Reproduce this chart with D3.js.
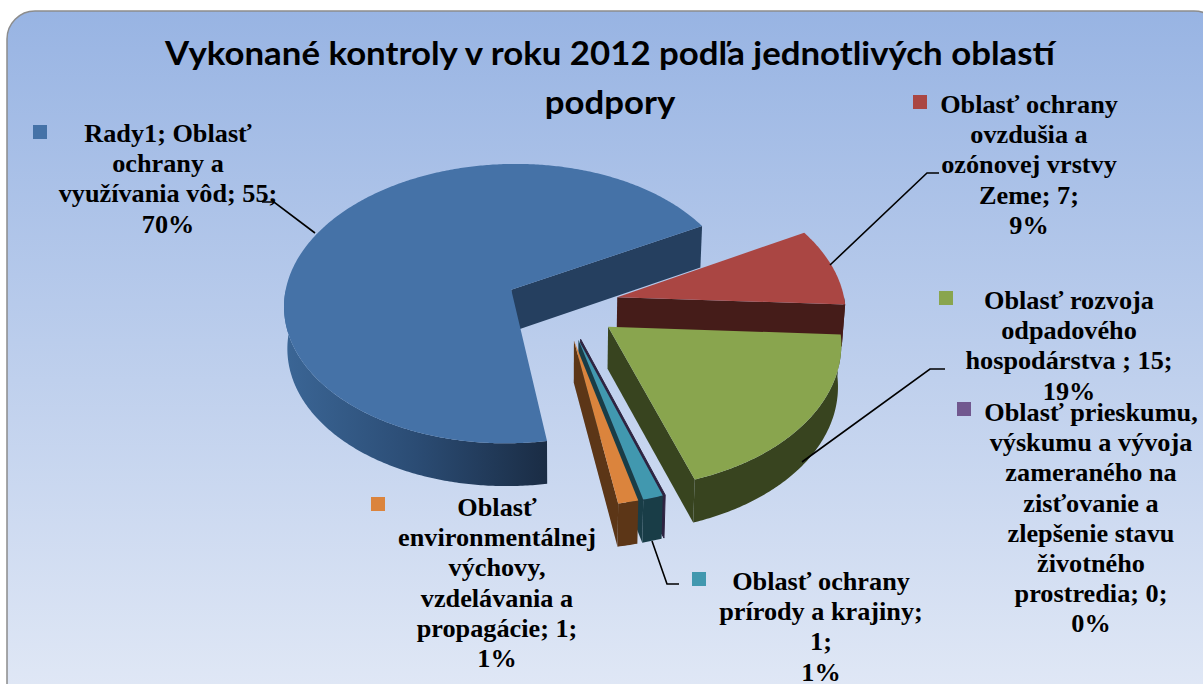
<!DOCTYPE html>
<html>
<head>
<meta charset="utf-8">
<title>Vykonané kontroly v roku 2012</title>
<script src="https://cdn.jsdelivr.net/npm/d3@7/dist/d3.min.js"></script>
<style>
html,body{margin:0;padding:0;background:#fff;overflow:hidden}
svg{display:block}
</style>
</head>
<body>
<script>
var titleLines = ["Vykonané kontroly v roku 2012 podľa jednotlivých oblastí", "podpory"];
var categories = [
	"Oblasť ochrany a využívania vôd",
	"Oblasť ochrany ovzdušia a ozónovej vrstvy Zeme",
	"Oblasť rozvoja odpadového hospodárstva",
	"Oblasť prieskumu, výskumu a vývoja zameraného na zisťovanie a zlepšenie stavu životného prostredia",
	"Oblasť ochrany prírody a krajiny",
	"Oblasť environmentálnej výchovy, vzdelávania a propagácie"
];
var values = [55, 7, 15, 0, 1, 1];
var topColors = ["#4572A7", "#AA4643", "#89A54E", "#71588F", "#4198AF", "#DB843D"];
var wallColors = ["#253F5F", "#451C19", "#38441F", "#2E2340", "#193D47", "#5C3617"];
var labelLines = [
	["Rady1; Oblasť", "ochrany a", "využívania vôd; 55;", "70%"],
	["Oblasť ochrany", "ovzdušia a", "ozónovej vrstvy", "Zeme; 7;", "9%"],
	["Oblasť rozvoja", "odpadového", "hospodárstva ; 15;", "19%"],
	["Oblasť prieskumu,", "výskumu a vývoja", "zameraného na", "zisťovanie a", "zlepšenie stavu", "životného", "prostredia; 0;", "0%"],
	["Oblasť ochrany", "prírody a krajiny;", "1;", "1%"],
	["Oblasť", "environmentálnej", "výchovy,", "vzdelávania a", "propagácie; 1;", "1%"]
];

var width = 1203, height = 684;
// layout of the labels: x centre, first baseline, legend key corner
var labelPos = [
	{x: 168, y: 142, kx: 33, ky: 125},
	{x: 1029, y: 113, kx: 913, ky: 95},
	{x: 1069, y: 309, kx: 939, ky: 291},
	{x: 1091, y: 421, kx: 957, ky: 402},
	{x: 821, y: 590, kx: 692, ky: 572},
	{x: 497, y: 516, kx: 371, ky: 497}
];
var leaders = [
	[[262, 202], [274, 202], [315, 233]],
	[[830, 265], [927, 173], [939, 173]],
	[[802, 462], [930, 369], [945, 369]],
	[[652, 541], [667, 584], [679, 584]]
];

var cx = 562, cy = 305, R = 228, tilt = 0.62, persp = 0.1, explode = 57, depth = 42;

var svg = d3.select("body").append("svg").attr("width", width).attr("height", height);
var defs = svg.append("defs");

var bg = defs.append("linearGradient").attr("id", "bg").attr("x1", 0).attr("y1", 0).attr("x2", 0).attr("y2", 1);
bg.append("stop").attr("offset", "0%").attr("stop-color", "#98B4E3");
bg.append("stop").attr("offset", "100%").attr("stop-color", "#E2E9F6");

var wall = defs.append("linearGradient").attr("id", "mainWall").attr("gradientUnits", "userSpaceOnUse")
	.attr("x1", 283).attr("y1", 0).attr("x2", 548).attr("y2", 0);
wall.append("stop").attr("offset", "0%").attr("stop-color", "#3B6696");
wall.append("stop").attr("offset", "50%").attr("stop-color", "#2B4C74");
wall.append("stop").attr("offset", "100%").attr("stop-color", "#1A2C44");

svg.append("rect").attr("x", 7).attr("y", 11).attr("width", 1215).attr("height", 700).attr("rx", 28)
	.attr("fill", "url(#bg)").attr("stroke", "#8C8C8C").attr("stroke-width", 1.5);

// pie angles, clockwise from the top
var pie = d3.pie().sort(null).value(function(d){return d})
	.startAngle(170.5 * Math.PI / 180).endAngle((170.5 + 360) * Math.PI / 180);
var slices = pie(values);

function project(d, a, r, low) {
	var mid = (d.startAngle + d.endAngle) / 2;
	var X = explode * Math.sin(mid) + r * Math.sin(a);
	var Y = -explode * Math.cos(mid) - r * Math.cos(a);
	var s = 1 / (1 - persp * Y / R);
	var px = cx + X * s, py = cy + tilt * Y * s;
	if (low) {
		px = cx + (px - cx) * 0.988;
		py = py + depth * (1 + (s - 1) * 0.2);
	}
	return [px, py];
}

function angles(a0, a1) {
	var n = Math.max(2, Math.ceil(Math.abs(a1 - a0) / 0.01));
	return d3.range(n + 1).map(function(i){return a0 + (a1 - a0) * i / n});
}

var line = d3.line();

function topFace(d) {
	var pts = [project(d, 0, 0)];
	angles(d.startAngle, d.endAngle).forEach(function(a){pts.push(project(d, a, R))});
	return line(pts) + "Z";
}
function endWall(d) {
	var a = d.endAngle;
	return line([project(d, a, 0), project(d, a, R), project(d, a, R, true), project(d, a, 0, true)]) + "Z";
}
function outerWall(d) {
	// only the part of the rim that faces the viewer, slices past the top have angles over 2pi
	var base = d.startAngle >= 2 * Math.PI ? 2 * Math.PI : 0;
	var a0 = Math.max(d.startAngle, base + Math.PI / 2), a1 = Math.min(d.endAngle, base + 1.5 * Math.PI);
	if (a1 <= a0) return null;
	var arc = angles(a0, a1);
	var pts = arc.map(function(a){return project(d, a, R)});
	var low = arc.slice().reverse().map(function(a){return project(d, a, R, true)});
	return line(pts.concat(low)) + "Z";
}

// painted in data order, each slice covers the wall of the one before it
var g = svg.selectAll("g.slice").data(slices).enter().append("g").attr("class", "slice");

g.append("path").attr("d", endWall)
	.attr("fill", function(d){return wallColors[d.index]})
	.attr("stroke", function(d){return d.value == 0 ? wallColors[d.index] : "none"})
	.attr("stroke-width", 1);
g.append("path").attr("d", outerWall)
	.attr("fill", function(d){return d.index == 0 ? "url(#mainWall)" : wallColors[d.index]});
g.filter(function(d){return d.value > 0}).append("path").attr("d", topFace)
	.attr("fill", function(d){return topColors[d.index]});

// leader lines
var leader = d3.line();
svg.selectAll("path.leader").data(leaders).enter().append("path").attr("class", "leader")
	.attr("d", function(d){return leader(d)})
	.attr("fill", "none").attr("stroke", "#000").attr("stroke-width", 1.6);

// title
svg.selectAll("text.title").data(titleLines).enter().append("text").attr("class", "title")
	.attr("transform", function(d, i){return "translate(610," + (65 + i * 49) + ") scale(1.055,1)"})
	.attr("text-anchor", "middle")
	.attr("font-family", "Lato, sans-serif").attr("font-weight", "bold").attr("font-size", 33)
	.attr("fill", "#000")
	.text(function(d){return d});

// data labels with their legend keys
var lab = svg.selectAll("g.label").data(labelLines).enter().append("g").attr("class", "label");
lab.append("rect")
	.attr("x", function(d, i){return labelPos[i].kx})
	.attr("y", function(d, i){return labelPos[i].ky})
	.attr("width", 14).attr("height", 14)
	.attr("fill", function(d, i){return topColors[i]});
lab.each(function(d, i) {
	d3.select(this).selectAll("text").data(d).enter().append("text")
		.attr("transform", function(t, j){return "translate(" + labelPos[i].x + "," + (labelPos[i].y + j * 30.2) + ") scale(1.05,1)"})
		.attr("text-anchor", "middle")
		.attr("font-family", "'Liberation Serif', serif").attr("font-weight", "bold").attr("font-size", 25)
		.attr("fill", "#000")
		.text(function(t){return t});
});
</script>
</body>
</html>
